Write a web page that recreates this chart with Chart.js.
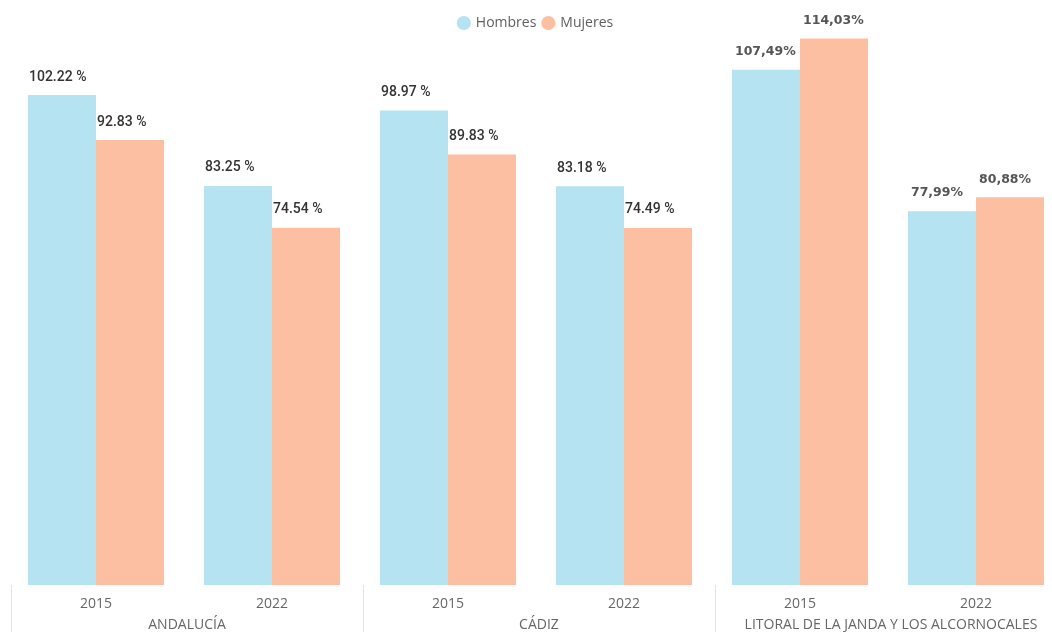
<!DOCTYPE html>
<html>
<head>
<meta charset="utf-8">
<script src="https://cdn.jsdelivr.net/npm/chart.js@4.4.1/dist/chart.umd.min.js"></script>
<style>
  html, body { margin: 0; padding: 0; background: #fff; overflow: hidden; }
  #wrap { position: relative; width: 1066px; height: 632px; }
</style>
</head>
<body>
<div id="wrap"><canvas id="c"></canvas></div>
<script>
const categories = ['2015', '2022', '2015', '2022', '2015', '2022'];
const groups = ['ANDALUCÍA', 'CÁDIZ', 'LITORAL DE LA JANDA Y LOS ALCORNOCALES'];
const hombres = [102.22, 83.25, 98.97, 83.18, 107.49, 77.99];
const mujeres = [92.83, 74.54, 89.83, 74.49, 114.03, 80.88];
const hombresLabels = ['102.22 %', '83.25 %', '98.97 %', '83.18 %', '107,49%', '77,99%'];
const mujeresLabels = ['92.83 %', '74.54 %', '89.83 %', '74.49 %', '114,03%', '80,88%'];

const valueLabels = {
  id: 'valueLabels',
  afterDatasetsDraw(chart) {
    const ctx = chart.ctx;
    const sets = [hombresLabels, mujeresLabels];
    ctx.save();
    chart.data.datasets.forEach((ds, di) => {
      const meta = chart.getDatasetMeta(di);
      meta.data.forEach((bar, i) => {
        const litoral = i >= 4;
        ctx.font = litoral ? 'bold 12.5px "DejaVu Sans"' : '500 14px Roboto';
        ctx.fillStyle = litoral ? '#555555' : '#333333';
        ctx.textAlign = 'left';
        ctx.textBaseline = 'middle';
        ctx.fillText(sets[di][i], bar.x - bar.width / 2 + (litoral ? 3 : 1), bar.y - 18);
      });
    });
    ctx.restore();
  }
};

const groupAxis = {
  id: 'groupAxis',
  afterDraw(chart) {
    const ctx = chart.ctx;
    const xs = chart.scales.x;
    const bottom = chart.chartArea.bottom;
    const step = xs.getPixelForValue(1) - xs.getPixelForValue(0);
    ctx.save();
    ctx.strokeStyle = '#E3E3E3';
    ctx.lineWidth = 1;
    for (let g = 0; g < groups.length; g++) {
      const first = g * 2;
      const sx = Math.round(xs.getPixelForValue(first) - step / 2 + 3) + 0.5;
      ctx.beginPath();
      ctx.moveTo(sx, bottom);
      ctx.lineTo(sx, chart.height);
      ctx.stroke();
      const cx = (xs.getPixelForValue(first) + xs.getPixelForValue(first + 1)) / 2 + 3;
      ctx.font = '14px "Open Sans"';
      ctx.fillStyle = '#666666';
      ctx.textAlign = 'center';
      ctx.textBaseline = 'middle';
      ctx.fillText(groups[g], cx, bottom + 40);
    }
    ctx.restore();
  }
};

new Chart(document.getElementById('c'), {
  type: 'bar',
  data: {
    labels: categories,
    datasets: [
      { label: 'Hombres', data: hombres, backgroundColor: '#B5E3F1', borderWidth: 0, clip: false },
      { label: 'Mujeres', data: mujeres, backgroundColor: '#FDBFA1', borderWidth: 0, clip: false }
    ]
  },
  options: {
    responsive: true,
    maintainAspectRatio: false,
    animation: false,
    layout: { padding: { top: 9, left: 8, right: 2, bottom: 0 } },
    datasets: { bar: { categoryPercentage: 0.773, barPercentage: 1.0 } },
    plugins: {
      legend: {
        position: 'top',
        labels: {
          usePointStyle: true,
          pointStyle: 'circle',
          boxWidth: 10,
          boxHeight: 10,
          color: '#5F5F5F',
          font: { family: '"Open Sans"', size: 14 },
          padding: 7
        }
      },
      tooltip: { enabled: false }
    },
    scales: {
      x: {
        grid: { display: false, drawTicks: false },
        border: { display: false },
        ticks: {
          color: '#666666',
          font: { family: '"Open Sans"', size: 14 },
          padding: 11,
          maxRotation: 0
        },
        afterFit(s) { s.height = 47; }
      },
      y: {
        display: false,
        min: 0,
        max: 113.7
      }
    }
  },
  plugins: [valueLabels, groupAxis]
});
</script>
</body>
</html>
